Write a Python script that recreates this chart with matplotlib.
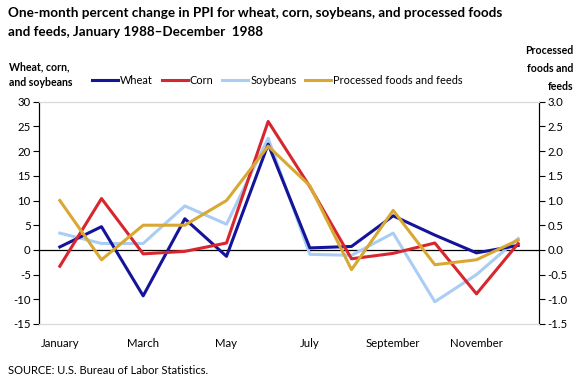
import matplotlib
matplotlib.use("Agg")
import matplotlib.pyplot as plt

months = ["January", "February", "March", "April", "May", "June",
          "July", "August", "September", "October", "November", "December"]
tick_labels = ["January", "", "March", "", "May", "", "July", "", "September", "", "November", ""]
wheat = [0.6, 4.7, -9.3, 6.3, -1.3, 21.4, 0.4, 0.7, 6.9, 3.0, -0.6, 0.9]
corn = [-3.3, 10.4, -0.8, -0.3, 1.4, 26.0, 12.8, -1.8, -0.7, 1.4, -8.9, 1.3]
soybeans = [3.4, 1.3, 1.3, 8.9, 5.2, 22.6, -0.9, -1.1, 3.4, -10.5, -5.0, 2.3]
processed = [1.0, -0.2, 0.5, 0.5, 1.0, 2.1, 1.3, -0.4, 0.8, -0.3, -0.2, 0.2]

left_ticks = [-15, -10, -5, 0, 5, 10, 15, 20, 25, 30]
right_ticks = [-1.5, -1.0, -0.5, 0.0, 0.5, 1.0, 1.5, 2.0, 2.5, 3.0]

plt.rcParams['font.family'] = ['Lato', 'DejaVu Sans']

W, H = 580, 381
fig = plt.figure(figsize=(W / 100, H / 100), dpi=100)
ax = fig.add_axes([39 / W, 1 - 324 / H, (539 - 39) / W, (324 - 101.7) / H])
ax2 = ax.twinx()

x = list(range(len(months)))
c_wheat, c_corn, c_soy, c_proc = "#14149b", "#d7262e", "#a9cdf5", "#d9a832"
lw = 2.2
ax.axhline(0, color="black", lw=0.9, zorder=1)
ax.plot(x, wheat, color=c_wheat, lw=lw, label="Wheat", zorder=3)
ax.plot(x, corn, color=c_corn, lw=lw, label="Corn", zorder=3)
ax.plot(x, soybeans, color=c_soy, lw=lw, label="Soybeans", zorder=2)
ax2.plot(x, processed, color=c_proc, lw=lw, label="Processed foods and feeds", zorder=4)

ax.set_xlim(-0.5, 11.5)
ax.set_ylim(-15, 30)
ax2.set_ylim(-1.5, 3.0)
ax.set_yticks(left_ticks)
ax.set_yticklabels([str(v) for v in left_ticks])
ax2.set_yticks(right_ticks)
ax2.set_yticklabels([f"{v:.1f}" for v in right_ticks])
ax.set_xticks(x)
ax.set_xticklabels(tick_labels)
ax.tick_params(axis="x", length=0, pad=10, labelsize=8.2)
ax.tick_params(axis="y", length=4, width=0.8, labelsize=8.2, pad=2)
ax2.tick_params(axis="y", length=4, width=0.8, labelsize=8.2, pad=2)

for a in (ax, ax2):
    a.spines["top"].set_color("#d9d9d9")
    a.spines["bottom"].set_color("#d9d9d9")
    a.spines["left"].set_color("black")
    a.spines["right"].set_color("black")
    a.spines["left"].set_linewidth(0.8)
    a.spines["right"].set_linewidth(0.8)

fig.text(8 / W, 1 - 7 / H, "One-month percent change in PPI for wheat, corn, soybeans, and processed foods\nand feeds, January 1988\u2013December  1988",
         fontsize=9.7, fontweight="bold", va="top", ha="left", linespacing=1.7)
fig.text(9 / W, 1 - 61 / H, "Wheat, corn,\nand soybeans", fontsize=7.6, fontweight="bold",
         va="top", ha="left", linespacing=1.6)
fig.text(573 / W, 1 - 45 / H, "Processed\nfoods and\nfeeds", fontsize=7.6, fontweight="bold",
         va="top", ha="right", linespacing=1.75, multialignment="right")
fig.text(8 / W, 1 - 371 / H, "SOURCE: U.S. Bureau of Labor Statistics.", fontsize=8,
         va="center", ha="left")

handles = ax.get_lines()[1:] + ax2.get_lines()
labels = [h.get_label() for h in handles]
fig.legend(handles, labels, loc="center left", bbox_to_anchor=(92 / W, 1 - 80 / H),
           ncol=4, frameon=False, fontsize=7.9, handlelength=2.4, handletextpad=0.15,
           columnspacing=0.8, borderaxespad=0, borderpad=0)

fig.savefig("out.png", dpi=100)
